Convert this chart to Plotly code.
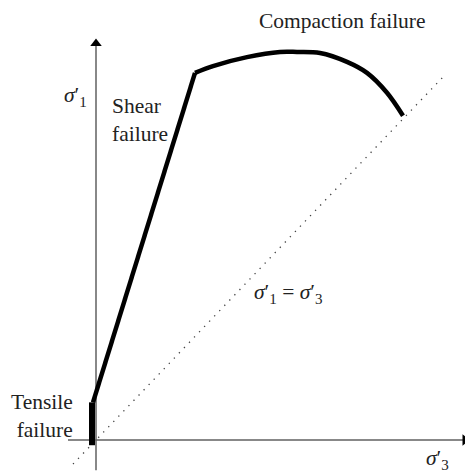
import plotly.graph_objects as go

# failure envelope, units: sigma'_3 along x, sigma'_1 along y (arbitrary)
tensile_x = [-4, -4]
tensile_y = [-5, 36]

shear_x = [-3, 99]
shear_y = [36, 351]

cap_x = [99, 117, 151, 184, 201, 224, 251, 271, 291, 307]
cap_y = [351, 357.5, 366, 371, 371, 370, 361.5, 351, 332, 310]

# sigma'_1 = sigma'_3 line
iso_x = [-23, 347]
iso_y = [-23, 347]

# axis extents
x_axis = [-28, 374]
y_axis = [-29, 385]

FONT = "Liberation Serif"
GREY = "#606060"

fig = go.Figure()
fig.add_trace(go.Scatter(x=iso_x, y=iso_y, mode="lines",
                         line=dict(color="#444", width=1.3, dash="1.3px,6px")))
fig.add_trace(go.Scatter(x=tensile_x, y=tensile_y, mode="lines",
                         line=dict(color="black", width=6)))
fig.add_trace(go.Scatter(x=shear_x, y=shear_y, mode="lines",
                         line=dict(color="black", width=4.5)))
fig.add_trace(go.Scatter(x=cap_x, y=cap_y, mode="lines",
                         line=dict(color="black", width=4.5, shape="spline")))

# axes drawn as plain lines, arrowheads as triangle markers
fig.add_shape(type="line", x0=x_axis[0], x1=x_axis[1] - 4, y0=0, y1=0,
              line=dict(color=GREY, width=1.5), layer="below")
fig.add_shape(type="line", x0=0, x1=0, y0=y_axis[0], y1=y_axis[1] - 4,
              line=dict(color=GREY, width=1.5), layer="below")
fig.add_trace(go.Scatter(x=[x_axis[1] - 5], y=[0], mode="markers",
                         marker=dict(symbol="triangle-right", size=10, color="black")))
fig.add_trace(go.Scatter(x=[0], y=[y_axis[1] - 6], mode="markers",
                         marker=dict(symbol="triangle-up", size=10, color="black")))

labels = [
    dict(x=246, y=401, text="Compaction failure", xanchor="center", align="center"),
    dict(x=14, y=306, text="Shear<br>failure", xanchor="left", align="left"),
    dict(x=-21, y=23, text="Tensile<br>failure", xanchor="right", align="right"),
    dict(x=-21, y=328, text="<i>σ</i>′<sub>1</sub>", xanchor="center", align="center"),
    dict(x=341, y=-19, text="<i>σ</i>′<sub>3</sub>", xanchor="center", align="center"),
    dict(x=192, y=140, text="<i>σ</i>′<sub>1</sub> = <i>σ</i>′<sub>3</sub>",
         xanchor="center", align="center"),
]
for lab in labels:
    fig.add_annotation(showarrow=False, yanchor="middle",
                       font=dict(family=FONT, size=21.5, color="#222"), **lab)

# the page body has an 8 px margin, so the figure is 8 px smaller
fig.update_layout(
    width=465, height=466,
    margin=dict(l=0, r=0, t=0, b=0),
    paper_bgcolor="white", plot_bgcolor="white",
    showlegend=False,
    xaxis=dict(range=[-88, 377], visible=False, fixedrange=True),
    yaxis=dict(range=[-32.5, 413], visible=False, fixedrange=True),
)

fig.write_html("out.html")
